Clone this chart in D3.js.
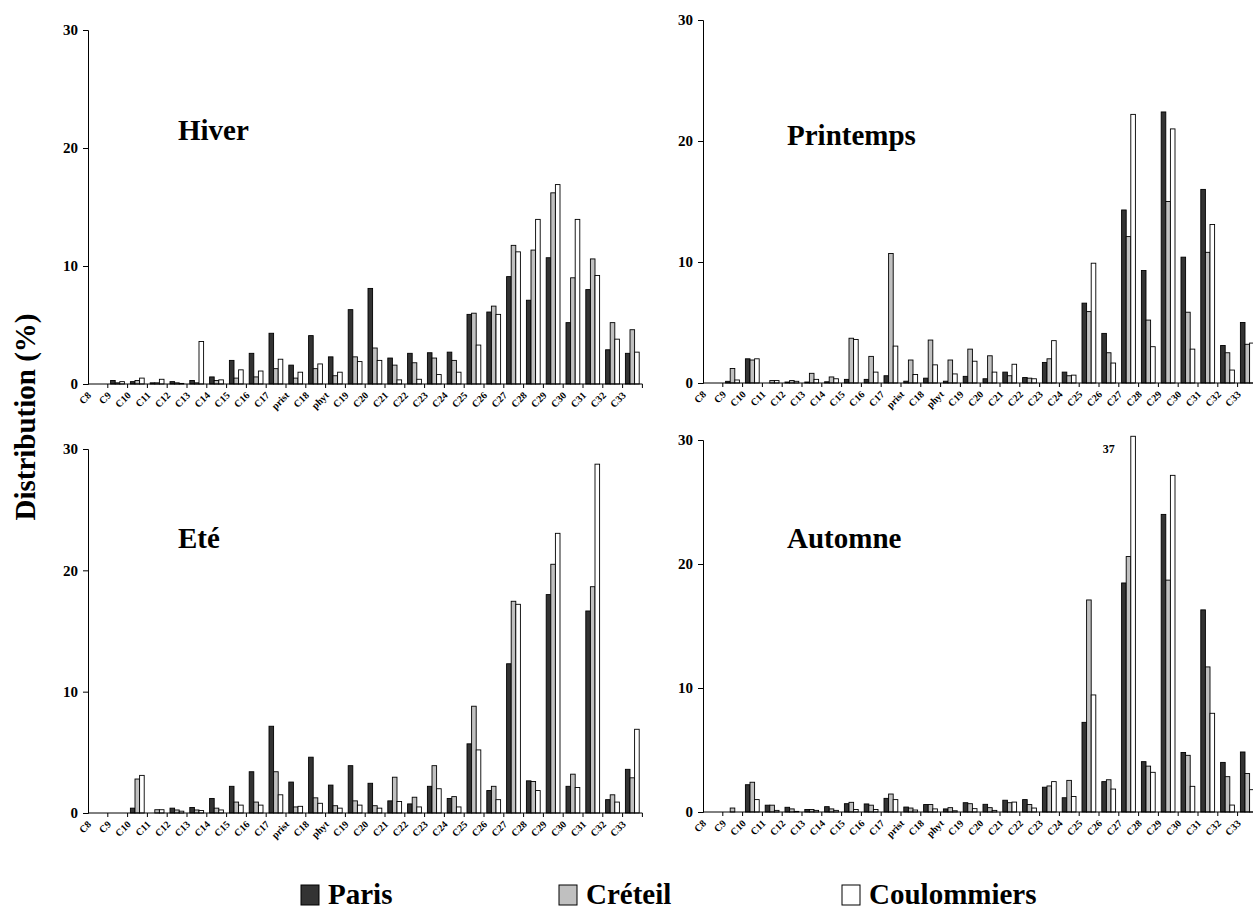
<!DOCTYPE html>
<html>
<head>
<meta charset="utf-8">
<script src="https://cdn.jsdelivr.net/npm/d3@7"></script>
<style>
  body { margin: 0; background: #fff; }
  svg text { font-family: "Liberation Serif", "Times New Roman", serif; font-weight: bold; fill: #000; }
</style>
</head>
<body>
<div id="chart"></div>
<script>
// categories (carbon chain length + pristane / phytane)
var categories = ["C8","C9","C10","C11","C12","C13","C14","C15","C16","C17","prist","C18","phyt",
  "C19","C20","C21","C22","C23","C24","C25","C26","C27","C28","C29","C30","C31","C32","C33"];
var series = ["Paris", "Créteil", "Coulommiers"];
var yTicks = [0, 10, 20, 30];

// Hiver
var hiverParis = [0,0.3,0.2,0.1,0.2,0.3,0.6,2.0,2.6,4.3,1.6,4.1,2.3,6.3,8.1,2.2,2.6,2.65,2.7,5.9,6.1,9.1,7.1,10.7,5.2,8.0,2.9,2.6];
var hiverCreteil = [0,0.1,0.3,0.1,0.1,0.1,0.3,0.5,0.6,1.3,0.5,1.3,0.7,2.3,3.05,1.6,1.8,2.2,2.0,6.0,6.6,11.75,11.35,16.2,9.0,10.6,5.2,4.6];
var hiverCoul = [0,0.2,0.5,0.4,0.05,3.6,0.35,1.2,1.1,2.1,1.0,1.7,1.0,1.9,2.0,0.35,0.4,0.8,1.0,3.3,5.9,11.2,13.95,16.9,13.95,9.2,3.8,2.7];

// Printemps
var printParis = [0,0.14,2.0,0,0.08,0.08,0.1,0.3,0.3,0.6,0.15,0.4,0.15,0.55,0.35,0.9,0.45,1.7,0.9,6.6,4.1,14.3,9.3,22.4,10.4,16.0,3.1,5.0];
var printCreteil = [0,1.2,1.9,0.2,0.2,0.8,0.5,3.7,2.2,10.7,1.9,3.55,1.9,2.8,2.25,0.6,0.4,2.0,0.6,5.9,2.5,12.1,5.2,15.0,5.85,10.8,2.5,3.2];
var printCoul = [0,0.25,2.0,0.2,0.14,0.3,0.35,3.6,0.9,3.05,0.7,1.5,0.75,1.8,0.9,1.55,0.35,3.5,0.65,9.9,1.65,22.2,3.0,21.0,2.8,13.1,1.07,3.3];

// Eté
var eteParis = [0,0,0.4,0,0.4,0.45,1.2,2.2,3.4,7.15,2.55,4.6,2.3,3.9,2.45,1.0,0.75,2.2,1.2,5.7,1.85,12.3,2.65,18.0,2.2,16.65,1.1,3.6];
var eteCreteil = [0,0,2.8,0.27,0.25,0.25,0.4,0.9,0.9,3.4,0.5,1.25,0.6,1.0,0.6,2.95,1.3,3.9,1.35,8.8,2.2,17.45,2.6,20.5,3.2,18.65,1.5,2.9];
var eteCoul = [0,0,3.1,0.27,0.15,0.2,0.25,0.65,0.65,1.5,0.55,0.8,0.4,0.65,0.4,0.95,0.5,2.0,0.5,5.2,1.1,17.2,1.85,23.05,2.1,28.75,0.9,6.9];

// Automne
var autParis = [0,0,2.2,0.55,0.38,0.2,0.43,0.67,0.65,1.1,0.4,0.6,0.25,0.75,0.62,0.95,1.0,2.0,1.15,7.23,2.45,18.47,4.06,24.0,4.8,16.3,4.0,4.84];
var autCreteil = [0,0.32,2.4,0.55,0.25,0.2,0.25,0.78,0.55,1.45,0.32,0.6,0.35,0.67,0.35,0.75,0.6,2.1,2.55,17.1,2.6,20.6,3.7,18.7,4.57,11.7,2.85,3.1];
var autCoul = [0,0,1.0,0.13,0.05,0.13,0.13,0.2,0.2,1.0,0.16,0.25,0.1,0.27,0.13,0.8,0.32,2.45,1.25,9.44,1.85,37,3.2,27.15,2.07,7.96,0.56,1.8];

var colors = {"Paris": "#333333", "Créteil": "#c0c0c0", "Coulommiers": "#ffffff"};

var width = 1253, height = 912;

var svg = d3.select("#chart").append("svg")
    .attr("width", width)
    .attr("height", height);

// one panel per season
var panels = [
  {title: "Hiver", values: [hiverParis, hiverCreteil, hiverCoul], x0: 88, y30: 30, y0: 384, tx: 178, ty: 140},
  {title: "Printemps", values: [printParis, printCreteil, printCoul], x0: 703, y30: 20, y0: 383, tx: 787, ty: 145},
  {title: "Eté", values: [eteParis, eteCreteil, eteCoul], x0: 88, y30: 449, y0: 813, tx: 178, ty: 548},
  {title: "Automne", values: [autParis, autCreteil, autCoul], x0: 703, y30: 440, y0: 812, tx: 787, ty: 548}
];

var bandW = 19.8;
var yMax = 30;

panels.forEach(function(p) {
  var x = d3.scaleBand()
      .domain(categories)
      .range([p.x0, p.x0 + bandW * categories.length])
      .padding(0);
  var xs = d3.scaleBand()
      .domain(series)
      .range([2.8, 16.6])
      .padding(0);
  var y = d3.scaleLinear()
      .domain([0, yMax])
      .range([p.y0, p.y30]);

  var g = svg.append("g");

  // bars
  var rows = [];
  categories.forEach(function(c, i) {
    series.forEach(function(s, j) {
      rows.push({cat: c, name: s, v: p.values[j][i]});
    });
  });

  g.selectAll(".bar")
      .data(rows)
    .enter().append("rect")
      .attr("class", "bar")
      .attr("x", function(d) { return x(d.cat) + xs(d.name); })
      .attr("width", xs.bandwidth())
      .attr("y", function(d) { return y(Math.min(d.v, yMax + 0.3)); })
      .attr("height", function(d) { return p.y0 - y(Math.min(d.v, yMax + 0.3)); })
      .attr("fill", function(d) { return colors[d.name]; })
      .attr("stroke", "#000")
      .attr("stroke-width", 0.9);

  // values beyond the axis
  rows.filter(function(d) { return d.v > yMax; }).forEach(function(d) {
    g.append("text")
        .attr("x", x(d.cat) + xs(d.name) - 16)
        .attr("y", y(yMax) + 13)
        .attr("text-anchor", "end")
        .attr("font-size", 12)
        .text(d.v);
  });

  // y axis
  var yAxis = d3.axisLeft(y).tickValues(yTicks).tickSize(5).tickPadding(5);
  var ya = g.append("g")
      .attr("transform", "translate(" + p.x0 + ",0)")
      .call(yAxis)
      .attr("font-family", null);
  ya.selectAll("text").attr("font-size", 15);
  ya.select(".domain").attr("stroke", "#000");

  // x axis: tick marks between categories
  var xEnd = p.x0 + bandW * categories.length;
  g.append("line")
      .attr("x1", p.x0).attr("x2", xEnd)
      .attr("y1", p.y0).attr("y2", p.y0)
      .attr("stroke", "#000");
  g.selectAll(".xtick")
      .data(categories)
    .enter().append("line")
      .attr("x1", function(d) { return x(d) + bandW; })
      .attr("x2", function(d) { return x(d) + bandW; })
      .attr("y1", p.y0).attr("y2", p.y0 + 4)
      .attr("stroke", "#000");

  g.selectAll(".xlab")
      .data(categories)
    .enter().append("text")
      .attr("text-anchor", "end")
      .attr("font-size", 10)
      .attr("transform", function(d) {
        return "translate(" + (x(d) + bandW / 2 - 6) + "," + (p.y0 + 12) + ") rotate(-45)";
      })
      .text(function(d) { return d; });

  // season title
  g.append("text")
      .attr("x", p.tx)
      .attr("y", p.ty)
      .attr("font-size", 29)
      .text(p.title);
});

// y axis title
svg.append("text")
    .attr("transform", "translate(35,417) rotate(-90)")
    .attr("text-anchor", "middle")
    .attr("font-size", 29)
    .text("Distribution (%)");

// legend
var legendX = [301, 559, 842];
var legend = svg.selectAll(".legend")
    .data(series)
  .enter().append("g")
    .attr("transform", function(d, i) { return "translate(" + legendX[i] + ",0)"; });

legend.append("rect")
    .attr("y", 885)
    .attr("width", 18)
    .attr("height", 20)
    .attr("fill", function(d) { return colors[d]; })
    .attr("stroke", "#000");

legend.append("text")
    .attr("x", 27)
    .attr("y", 904)
    .attr("font-size", 29)
    .text(function(d) { return d; });
</script>
</body>
</html>
